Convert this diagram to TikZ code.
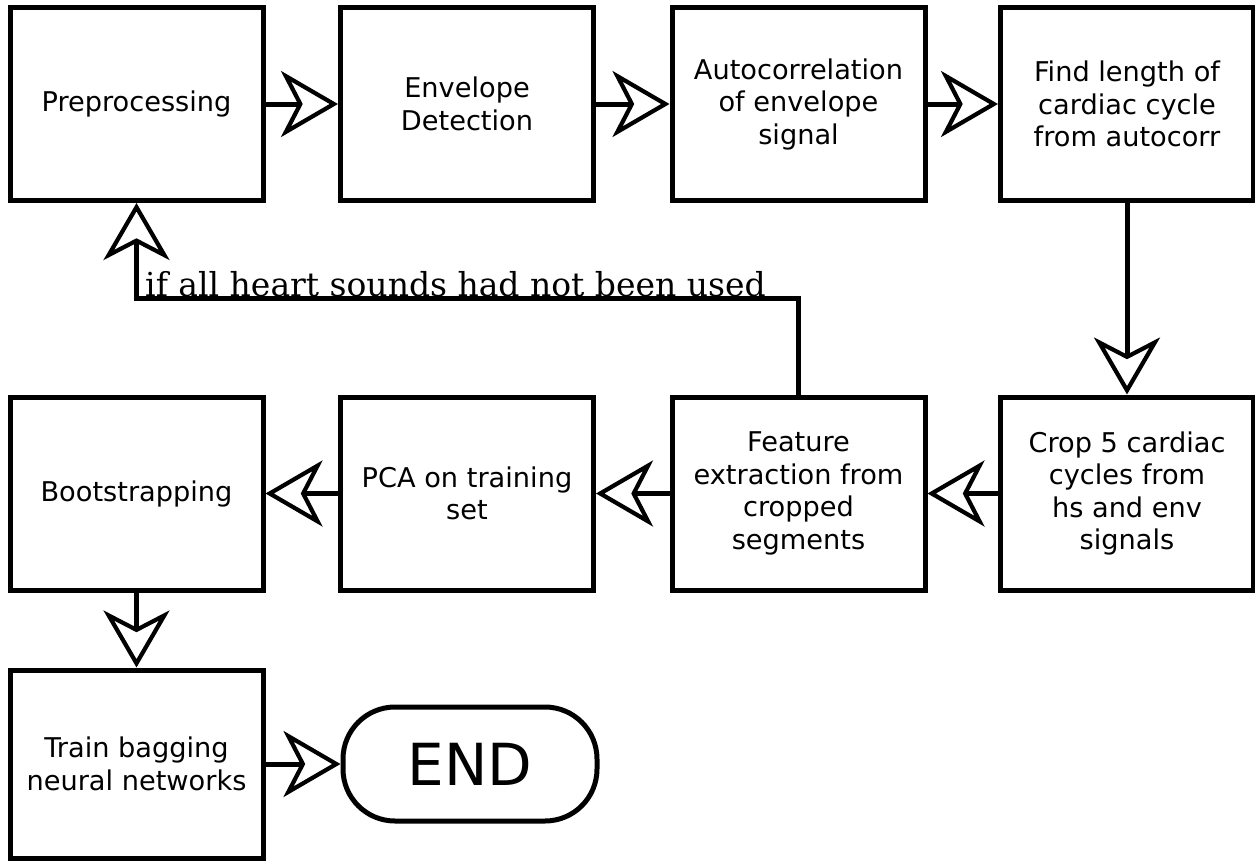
\documentclass[tikz,border=0pt]{standalone}
\usepackage{fontspec}
\setmainfont{DejaVu Sans}
\newfontfamily\labelfont{DejaVu Serif}
\usetikzlibrary{arrows.meta}
\begin{document}
\begin{tikzpicture}[x=1pt,y=-1pt,
  box/.style={draw, line width=5pt, minimum width=253pt, minimum height=193pt,
    inner sep=0pt, align=center, font=\fontsize{27.2}{32.5}\selectfont},
  endbox/.style={draw, line width=5pt, rounded corners=52pt, minimum width=254pt,
    minimum height=114pt, inner sep=0pt, font=\fontsize{58}{60}\selectfont},
  flow/.style={line width=5pt, -{Stealth[fill=white, length=57pt, width=66pt, inset=17pt, line width=4.2pt]}},
  lbl/.style={anchor=base west, inner sep=0pt, font=\labelfont\fontsize{33}{40}\selectfont},
]
\useasboundingbox (0,0) rectangle (1255,862);
% row 1
\node[box] (pre) at (136.5,104) {Preprocessing};
\node[box] (env) at (467,104) {Envelope\\Detection};
\node[box] (auto) at (798.5,104) {Autocorrelation\\of envelope\\signal};
\node[box] (find) at (1127,104) {Find length of\\cardiac cycle\\from autocorr};
% row 2
\node[box] (boot) at (136.5,493.5) {Bootstrapping};
\node[box] (pca) at (467,493.5) {PCA on training\\set};
\node[box] (feat) at (798.5,493.5) {Feature\\extraction from\\cropped\\segments};
\node[box] (crop) at (1127,493.5) {Crop 5 cardiac\\cycles from\\hs and env\\signals};
% row 3
\node[box, minimum height=188pt] (train) at (136.5,764) {Train bagging\\neural networks};
\node[endbox] (end) at (470,764) {END};
% connectors
\draw[flow] (pre) -- (env);
\draw[flow] (env) -- (auto);
\draw[flow] (auto) -- (find);
\draw[flow] (find) -- (crop);
\draw[flow] (crop) -- (feat);
\draw[flow] (feat) -- (pca);
\draw[flow] (pca) -- (boot);
\draw[flow] (boot) -- (train);
\draw[flow] (train) -- (end);
\coordinate (fb) at (0,298);
\draw[flow] (feat.north) -- (feat.north |- fb) -| (pre.south);
\node[lbl] (note) at (145,296) {if all heart sounds had not been used};
\end{tikzpicture}
\end{document}
